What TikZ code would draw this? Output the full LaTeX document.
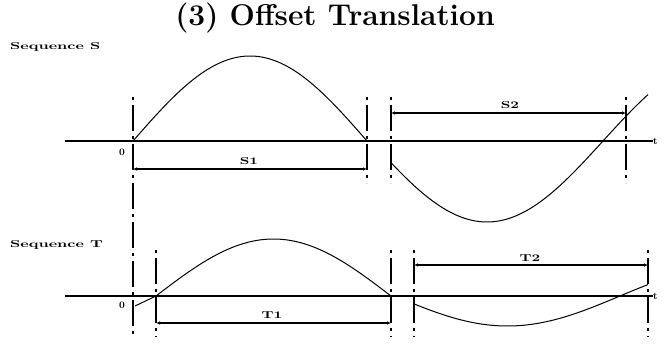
\documentclass[tikz,border=0pt]{standalone}
\usetikzlibrary{arrows.meta}
\begin{document}
\begin{tikzpicture}[x=1pt,y=-1pt,
  axis/.style={line width=1.5pt},
  guide/.style={line width=1.8pt, dash pattern=on 3pt off 5pt on 26pt off 5pt},
  dim/.style={line width=1.6pt,{Latex[length=4pt,width=3.5pt]}-{Latex[length=4pt,width=3.5pt]}},
  wave/.style={line width=1pt},
  lbl/.style={font=\fontsize{10}{10}\selectfont\bfseries, inner sep=0pt},
  seqlbl/.style={inner sep=0pt, anchor=west}]
\useasboundingbox (0,0) rectangle (669,352);

% title
\node[inner sep=0pt] (title) at (335,18) {\fontsize{30}{31}\selectfont\bfseries (3) Offset Translation};

% sequence labels
\node[seqlbl] (seqS) at (10,47) {\scalebox{1.6}[1]{\fontsize{10}{10}\selectfont\bfseries Sequence S}};
\node[seqlbl] (seqT) at (10,245) {\scalebox{1.6}[1]{\fontsize{10}{10}\selectfont\bfseries Sequence T}};

% axes
\coordinate (aS0) at (65,141);
\coordinate (aS1) at (653,141);
\coordinate (aT0) at (65,296);
\coordinate (aT1) at (653,296);
\draw[axis] (aS0) -- (aS1);
\draw[axis] (aT0) -- (aT1);
\node[lbl, anchor=west] (tS) at (aS1) {t};
\node[lbl, anchor=west] (tT) at (aT1) {t};
\node[lbl] (zS) at (122,152) {0};
\node[lbl] (zT) at (122,305) {0};

% guide lines
\coordinate (g1a) at (133,97);  \coordinate (g1b) at (133,337);
\coordinate (g2a) at (367,97);  \coordinate (g2b) at (367,183);
\coordinate (g3a) at (391,97);  \coordinate (g3b) at (391,183);
\coordinate (g4a) at (626,97);  \coordinate (g4b) at (626,183);
\coordinate (h1a) at (156,250); \coordinate (h1b) at (156,337);
\coordinate (h2a) at (391,250); \coordinate (h2b) at (391,337);
\coordinate (h3a) at (414,250); \coordinate (h3b) at (414,337);
\coordinate (h4a) at (648,250); \coordinate (h4b) at (648,337);
\foreach \a/\b in {g1a/g1b,g2a/g2b,g3a/g3b,g4a/g4b,h1a/h1b,h2a/h2b,h3a/h3b,h4a/h4b}
  \draw[guide] (\a) -- (\b);

% dimension lines
\coordinate (s1a) at (133,169); \coordinate (s1b) at (367,169);
\coordinate (s2a) at (391,113); \coordinate (s2b) at (626,113);
\coordinate (t1a) at (156,323); \coordinate (t1b) at (391,323);
\coordinate (t2a) at (414,265); \coordinate (t2b) at (648,265);
\draw[dim] (s1a) -- (s1b);
\draw[dim] (s2a) -- (s2b);
\draw[dim] (t1a) -- (t1b);
\draw[dim] (t2a) -- (t2b);
\node[lbl] (ls1) at (249,161) {\scalebox{1.5}[1]{S1}};
\node[lbl] (ls2) at (510,105) {\scalebox{1.5}[1]{S2}};
\node[lbl] (lt1) at (272,315) {\scalebox{1.5}[1]{T1}};
\node[lbl] (lt2) at (530,258) {\scalebox{1.5}[1]{T2}};

% waves
\draw[wave] plot[domain=133:367, samples=80, smooth] (\x,{141-85*sin(0.76923*(\x-133))});
\draw[wave] plot[domain=391:648, samples=80, smooth] (\x,{141+81*sin(0.77586*(\x-371))});
\coordinate (w0) at (135,306);
\coordinate (w1) at (156,296);
\draw[wave] (w0) -- (w1);
\draw[wave] plot[domain=156:391, samples=80, smooth] (\x,{296-57*sin(0.76596*(\x-156))});
\draw[wave] plot[domain=414:648, samples=80, smooth] (\x,{296+30*sin(0.8*(\x-395))});
\end{tikzpicture}
\end{document}
